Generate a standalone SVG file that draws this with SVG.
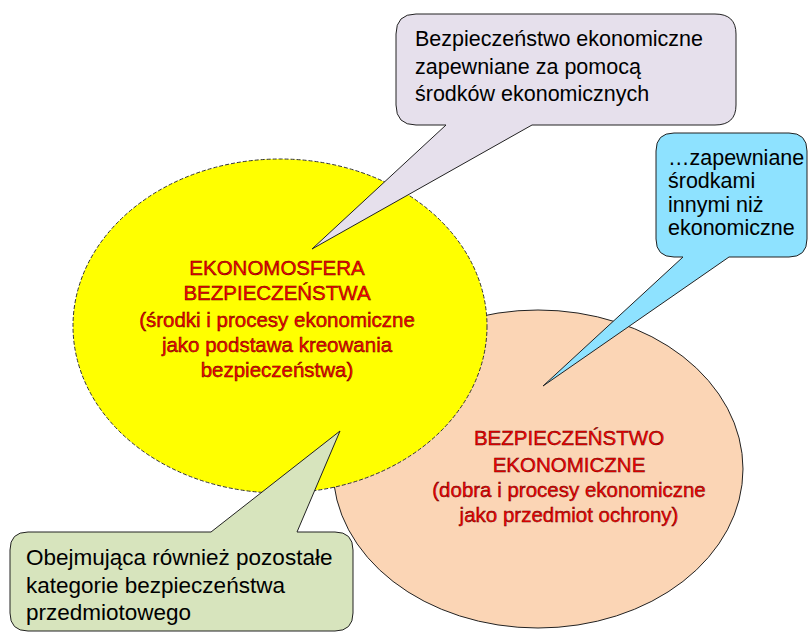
<svg xmlns="http://www.w3.org/2000/svg" width="808" height="633" viewBox="0 0 808 633">
<style>
.red{font-family:"Liberation Sans",Arial,sans-serif;font-size:20.5px;fill:#ff0000;stroke:#5a0000;stroke-width:0.45;text-anchor:middle}
.blk{font-family:"Liberation Sans",Arial,sans-serif;fill:#000}
.co{stroke:#222;stroke-width:1;stroke-linejoin:miter}
</style>
<rect width="808" height="633" fill="#fff"/>
<g id="ekonomiczne">
<ellipse cx="538" cy="469" rx="205" ry="159" fill="#fbd5b5" stroke="#222" stroke-width="1"/>
</g>
<g id="ekonomosfera">
<ellipse cx="280" cy="326" rx="207" ry="167" fill="#ffff00" stroke="#333" stroke-width="1" stroke-dasharray="4 2"/>
<text class="red" x="277" y="275">EKONOMOSFERA</text>
<text class="red" x="277" y="300">BEZPIECZEŃSTWA</text>
<text class="red" x="277" y="327">(środki i procesy ekonomiczne</text>
<text class="red" x="277" y="352">jako podstawa kreowania</text>
<text class="red" x="277" y="377">bezpieczeństwa)</text>
</g>
<g id="ekonomiczne-text">
<text class="red" x="569" y="445">BEZPIECZEŃSTWO</text>
<text class="red" x="569" y="472">EKONOMICZNE</text>
<text class="red" x="569" y="497">(dobra i procesy ekonomiczne</text>
<text class="red" x="569" y="522">jako przedmiot ochrony)</text>
</g>
<g id="callout-top">
<path class="co" fill="#e6e0ec" d="M416,14 H715 Q736,14 736,34 V105 Q736,125 715,125 H532 L312,249 L446,125 H416 Q396,125 396,105 V34 Q396,14 416,14 Z"/>
<g class="blk" font-size="21.5">
<text x="415" y="46">Bezpieczeństwo ekonomiczne</text>
<text x="415" y="74">zapewniane za pomocą</text>
<text x="415" y="101">środków ekonomicznych</text>
</g>
</g>
<g id="callout-blue">
<path class="co" fill="#8ee2ff" d="M674,133 H789 Q807,133 807,151 V239 Q807,257 789,257 H729 L543,386 L683,257 H674 Q656,257 656,239 V151 Q656,133 674,133 Z"/>
<g class="blk" font-size="21.5">
<text x="668" y="165">…zapewniane</text>
<text x="668" y="188">środkami</text>
<text x="668" y="212">innymi niż</text>
<text x="668" y="235">ekonomiczne</text>
</g>
</g>
<g id="callout-green">
<path class="co" fill="#d7e4bd" d="M28,532 H211 L340,431 L297,532 H335 Q353,532 353,550 V613 Q353,631 335,631 H28 Q10,631 10,613 V550 Q10,532 28,532 Z"/>
<g class="blk" font-size="22.5">
<text x="26" y="565">Obejmująca również pozostałe</text>
<text x="26" y="593">kategorie bezpieczeństwa</text>
<text x="26" y="620">przedmiotowego</text>
</g>
</g>
<g id="connectors"></g>
</svg>
